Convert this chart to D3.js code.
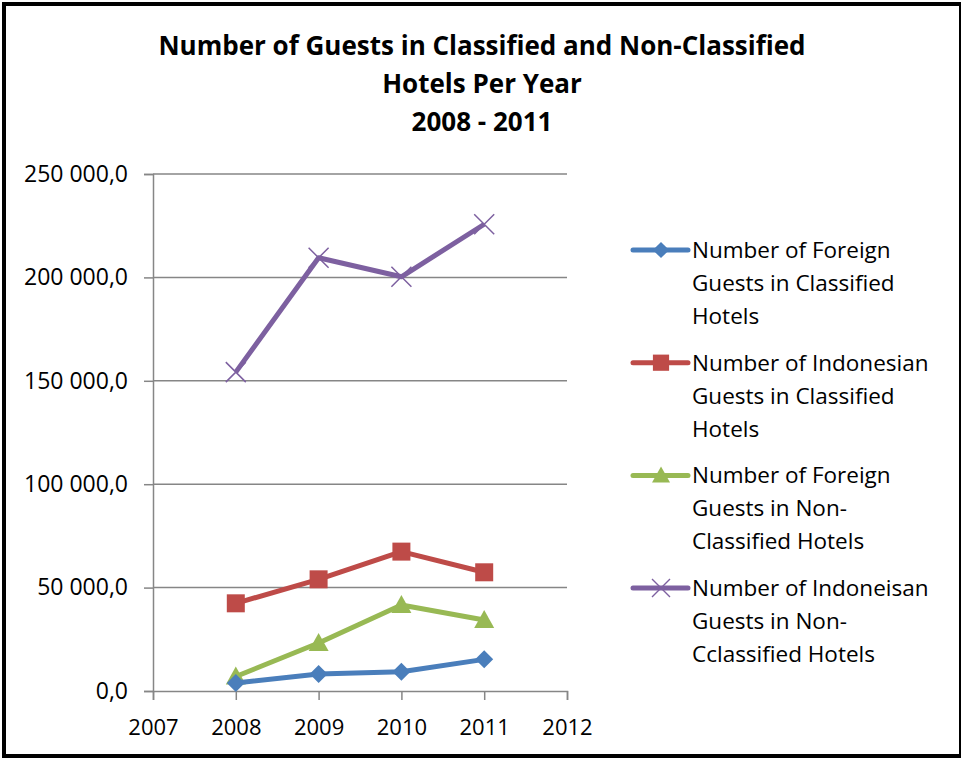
<!DOCTYPE html>
<html>
<head>
<meta charset="utf-8">
<script src="https://cdn.jsdelivr.net/npm/d3@7"></script>
<style>
  body { margin: 0; background: #fff; }
  svg { display: block; font-family: "Open Sans", sans-serif; }
</style>
</head>
<body>
<svg id="chart"></svg>
<script>
const years = [2008, 2009, 2010, 2011];
const foreignClassified = [3900, 8200, 9300, 15300];
const indonesianClassified = [42400, 54000, 67400, 57400];
const foreignNonClassified = [7000, 23200, 41600, 34300];
const indonesianNonClassified = [154200, 209500, 200300, 225700];
const yTicks = [0, 50000, 100000, 150000, 200000, 250000];
const xTicks = [2007, 2008, 2009, 2010, 2011, 2012];
const titleLines = ["Number of Guests in Classified and Non-Classified", "Hotels Per Year", "2008 - 2011"];

const series = [
  {name: ["Number of Foreign", "Guests in Classified", "Hotels"], values: foreignClassified, color: "#4a7ebb", marker: "diamond"},
  {name: ["Number of Indonesian", "Guests in Classified", "Hotels"], values: indonesianClassified, color: "#be4b48", marker: "square"},
  {name: ["Number of Foreign", "Guests in Non-", "Classified Hotels"], values: foreignNonClassified, color: "#98b954", marker: "triangle"},
  {name: ["Number of Indoneisan", "Guests in Non-", "Cclassified Hotels"], values: indonesianNonClassified, color: "#7d60a0", marker: "cross"}
];

const width = 961, height = 758;
const margin = {top: 174, right: 394, bottom: 67, left: 153};

const svg = d3.select("#chart").attr("width", width).attr("height", height);

svg.append("rect")
    .attr("x", 4).attr("y", 4).attr("width", 957).attr("height", 752)
    .attr("fill", "#fff").attr("stroke", "#000").attr("stroke-width", 4);

const x = d3.scaleLinear().domain([2007, 2012]).range([margin.left, width - margin.right]);
const y = d3.scaleLinear().domain([0, 250000]).range([height - margin.bottom, margin.top]);

// gridlines
svg.append("g")
  .selectAll("line")
  .data(yTicks.slice(1))
  .join("line")
    .attr("x1", margin.left).attr("x2", width - margin.right)
    .attr("y1", d => y(d)).attr("y2", d => y(d))
    .attr("stroke", "#868686").attr("stroke-width", 1.5);

const fmt = d => d === 0 ? "0,0" : d3.format(",")(d).replace(/,/g, " ") + ",0";

const yAxis = svg.append("g")
    .attr("transform", `translate(${margin.left},0)`)
    .call(d3.axisLeft(y).tickValues(yTicks).tickFormat(fmt).tickSize(9).tickPadding(16));
const xAxis = svg.append("g")
    .attr("transform", `translate(0,${height - margin.bottom})`)
    .call(d3.axisBottom(x).tickValues(xTicks).tickFormat(d3.format("d")).tickSize(9));

[xAxis, yAxis].forEach(g => {
  g.select(".domain").attr("stroke", "#868686").attr("stroke-width", 1.5);
  g.selectAll(".tick line").attr("stroke", "#868686").attr("stroke-width", 1.5);
  g.selectAll(".tick text").attr("fill", "#000")
    .attr("font-family", "'Open Sans', sans-serif");
});
yAxis.selectAll(".tick text").attr("font-size", 23);
xAxis.selectAll(".tick text").attr("font-size", 22).attr("y", 44).attr("dy", 0);

const markerPath = {
  diamond: "M0,-9L9,0L0,9L-9,0Z",
  square: "M-9,-9H9V9H-9Z",
  triangle: "M-10,8L0,-10L10,8Z",
  cross: "M-10,-10L10,10M-10,10L10,-10"
};

function drawMarker(g, s) {
  const p = g.append("path").attr("d", markerPath[s.marker]);
  if (s.marker === "cross") p.attr("stroke", s.color).attr("stroke-width", 1.5).attr("fill", "none");
  else p.attr("fill", s.color);
}

const line = d3.line().x((d, i) => x(years[i])).y(d => y(d));

// draw in reverse so blue is on top like the original
series.slice().reverse().forEach(s => {
  svg.append("path")
      .datum(s.values)
      .attr("fill", "none")
      .attr("stroke", s.color)
      .attr("stroke-width", 5)
      .attr("stroke-linejoin", "round")
      .attr("d", line);
  s.values.forEach((v, i) => {
    drawMarker(svg.append("g").attr("transform", `translate(${x(years[i])},${y(v)})`), s);
  });
});

// title
svg.append("text")
    .attr("text-anchor", "middle")
    .attr("font-weight", "bold")
    .attr("font-size", 26)
  .selectAll("tspan")
  .data(titleLines)
  .join("tspan")
    .attr("x", 482)
    .attr("y", (d, i) => 55 + i * 38)
    .text(d => d);

// legend
const legend = svg.append("g")
  .selectAll("g")
  .data(series)
  .join("g")
    .attr("transform", (d, i) => `translate(633,${250 + i * 112.7})`);

legend.append("line")
    .attr("x1", 0).attr("x2", 55)
    .attr("stroke", d => d.color).attr("stroke-width", 5).attr("stroke-linecap", "round");
legend.each(function(s) {
  const g = d3.select(this).append("g").attr("transform", "translate(28,0) scale(0.9)");
  drawMarker(g, s);
});
legend.append("text")
    .attr("font-size", 22.5)
  .selectAll("tspan")
  .data(d => d.name)
  .join("tspan")
    .attr("x", 59)
    .attr("y", (d, i) => 8 + i * 33)
    .text(d => d);
</script>
</body>
</html>
